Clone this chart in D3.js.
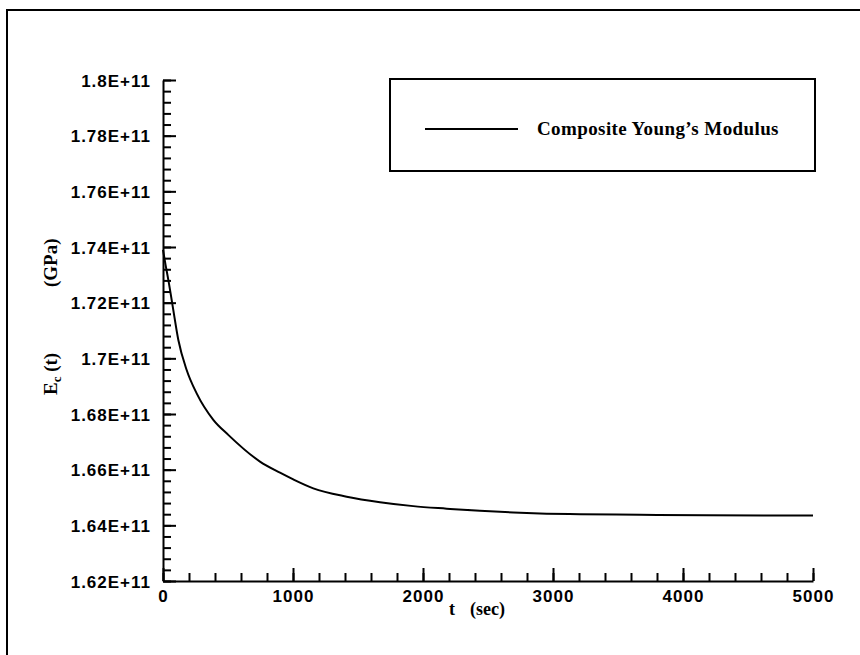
<!DOCTYPE html>
<html>
<head>
<meta charset="utf-8">
<script src="https://cdn.jsdelivr.net/npm/d3@7"></script>
<style>
  body { margin: 0; background: #fff; }
  svg { display: block; }
  .tick text { font-family: "Liberation Sans", Arial, sans-serif; font-weight: bold; font-size: 17px; letter-spacing: 1px; fill: #000; }
  .domain, .tick line { stroke: #000; stroke-width: 2px; }
  .serif { font-family: "Liberation Serif", "Times New Roman", serif; fill: #000; }
</style>
</head>
<body>
<div id="graph"></div>
<script>
var svgWidth = 860;
var svgHeight = 655;

// time (sec)
var times = [0, 20, 41, 75, 118, 182, 259, 387, 502, 746, 900, 1002, 1156, 1413, 1669, 1925,
             2182, 2438, 2695, 2951, 3208, 3669, 4182, 5000];
// composite Young's modulus (Pa)
var modulus = [1.739e11, 1.7335e11, 1.7282e11, 1.7186e11, 1.7066e11, 1.6958e11, 1.6874e11, 1.6779e11,
               1.6725e11, 1.6629e11, 1.6589e11, 1.6565e11, 1.6533e11, 1.6503e11, 1.6483e11, 1.6469e11,
               1.6460e11, 1.6452e11, 1.6446e11, 1.6442e11, 1.6440e11, 1.6438e11, 1.6436e11, 1.6435e11];

var xTicks = [0, 1000, 2000, 3000, 4000, 5000];
var yTicks = [1.62e11, 1.64e11, 1.66e11, 1.68e11, 1.70e11, 1.72e11, 1.74e11, 1.76e11, 1.78e11, 1.80e11];
var yTickLabels = ["1.62E+11", "1.64E+11", "1.66E+11", "1.68E+11", "1.7E+11",
                   "1.72E+11", "1.74E+11", "1.76E+11", "1.78E+11", "1.8E+11"];
var legendLabel = "Composite Young\u2019s Modulus";

var margin = { top: 80, right: 47, bottom: 74, left: 163 };
var width = svgWidth - margin.left - margin.right;
var height = svgHeight - margin.top - margin.bottom;

var svg = d3.select("#graph")
  .append("svg")
  .attr("width", svgWidth)
  .attr("height", svgHeight);

// outer frame (cut off on the right and bottom)
svg.append("rect")
  .attr("x", 7).attr("y", 10)
  .attr("width", 900).attr("height", 700)
  .attr("fill", "none")
  .attr("stroke", "#000")
  .attr("stroke-width", 2);

var chartGroup = svg.append("g")
  .attr("transform", `translate(${margin.left}, ${margin.top})`);

var x = d3.scaleLinear().domain([0, 5000]).range([0, width]);
var y = d3.scaleLinear().domain([1.62e11, 1.80e11]).range([height, 0]);

// minor ticks
chartGroup.append("g")
  .attr("transform", `translate(0, ${height})`)
  .call(d3.axisBottom(x).tickValues(d3.range(0, 5001, 200)).tickSize(-8).tickFormat(""))
  .call(g => g.select(".domain").remove());
chartGroup.append("g")
  .call(d3.axisLeft(y).tickValues(d3.range(0, 46).map(i => 1.62e11 + i * 0.004e11)).tickSize(-8).tickFormat(""))
  .call(g => g.select(".domain").remove());

// major ticks
chartGroup.append("g")
  .attr("transform", `translate(0, ${height})`)
  .call(d3.axisBottom(x).tickValues(xTicks).tickSize(-13).tickSizeOuter(0).tickPadding(9).tickFormat(d3.format("d")));

chartGroup.append("g")
  .call(d3.axisLeft(y).tickValues(yTicks).tickSize(-13).tickSizeOuter(0).tickPadding(12)
    .tickFormat((d, i) => yTickLabels[i]))
  .selectAll(".tick text").attr("dy", "0.36em");

// curve
var line = d3.line()
  .x((d, i) => x(times[i]))
  .y(d => y(d))
  .curve(d3.curveMonotoneX);

chartGroup.append("path")
  .datum(modulus)
  .attr("d", line)
  .attr("fill", "none")
  .attr("stroke", "#000")
  .attr("stroke-width", 2);

// legend
var legend = svg.append("g").attr("transform", "translate(390, 79)");
legend.append("rect")
  .attr("width", 425).attr("height", 92)
  .attr("fill", "none").attr("stroke", "#000").attr("stroke-width", 2);
legend.append("line")
  .attr("x1", 35).attr("x2", 128).attr("y1", 50).attr("y2", 50)
  .attr("stroke", "#000").attr("stroke-width", 2);
legend.append("text")
  .attr("class", "serif")
  .attr("x", 147).attr("y", 56)
  .attr("font-size", "19px")
  .attr("font-weight", "bold")
  .attr("letter-spacing", "0.4px")
  .text(legendLabel);

// axis titles
var xTitle = chartGroup.append("text")
  .attr("class", "serif")
  .attr("y", height + 34)
  .attr("font-size", "18px")
  .attr("font-weight", "bold");
xTitle.append("tspan").attr("x", 286).text("t");
xTitle.append("tspan").attr("x", 307).text("(sec)");

var yTitle = svg.append("text")
  .attr("class", "serif")
  .attr("transform", "translate(57, 395) rotate(-90)")
  .attr("font-size", "19px")
  .attr("font-weight", "bold");
yTitle.append("tspan").attr("x", 0).text("E");
yTitle.append("tspan").attr("dy", 4).attr("font-size", "13px").text("c");
yTitle.append("tspan").attr("dy", -4).text(" (t)");
yTitle.append("tspan").attr("x", 108).text("(GPa)");
</script>
</body>
</html>
